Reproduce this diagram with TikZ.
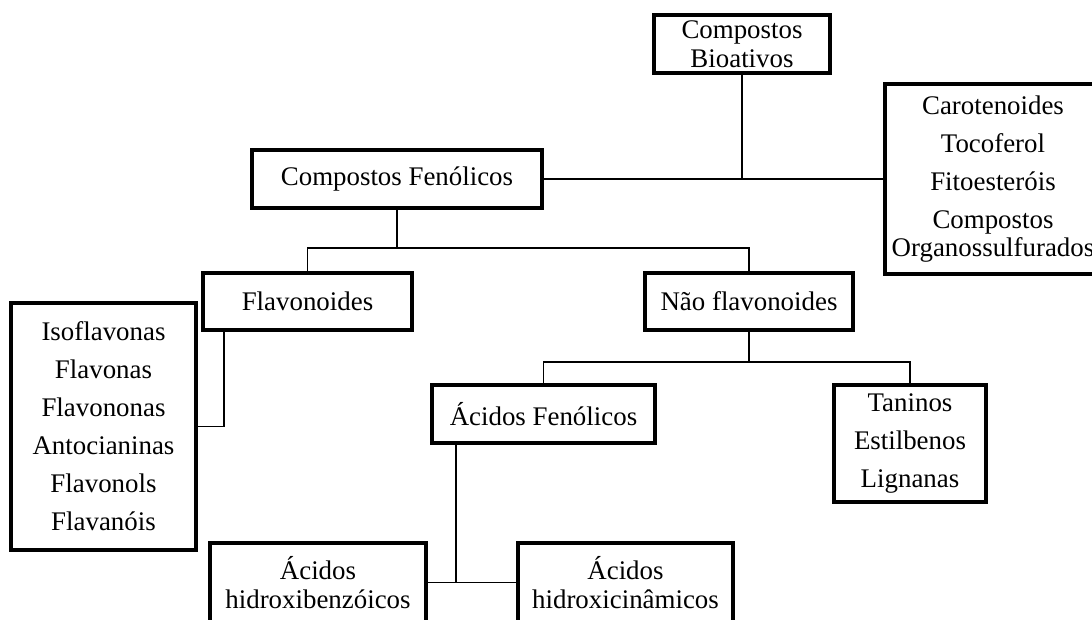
\documentclass[tikz,border=0pt]{standalone}
\usepackage{fontspec}
\setmainfont{Liberation Serif}
\usetikzlibrary{calc}

\def\px{0.02cm}

\begin{document}
\begin{tikzpicture}[x=\px,y=-\px,line width=0.75pt]
    \tikzstyle{box}=[draw,line width=2pt,align=center,inner sep=0pt,font=\fontsize{15.3}{16.2}\selectfont]
    \tikzstyle{list box}=[box,font=\fontsize{15.3}{21.6}\selectfont]
    \tikzstyle{link}=[line width=0.8pt]

    \useasboundingbox (0,0) rectangle (1092,619);

    % Top of the tree
    \node[box,minimum width=176*\px,minimum height=58*\px] (CB) at (742,44) {Compostos\\Bioativos};
    \node[box,minimum width=290*\px,minimum height=58*\px] (CF) at (397,179) {Compostos Fenólicos};
    \node[list box,minimum width=216*\px,minimum height=190*\px] (OC) at (993,179)
        {Carotenoides\\Tocoferol\\Fitoesteróis\\Compostos\\[-5.4pt]Organossulfurados};

    % Phenolic classes
    \node[box,minimum width=209*\px,minimum height=57*\px] (FL) at (307.5,301.5) {Flavonoides};
    \node[box,minimum width=208*\px,minimum height=57*\px] (NF) at (749,301.5) {Não flavonoides};
    \node[list box,minimum width=185*\px,minimum height=247*\px] (LF) at (103.5,426.5)
        {Isoflavonas\\Flavonas\\Flavononas\\Antocianinas\\Flavonols\\Flavanóis};

    % Non flavonoids
    \node[box,minimum width=223*\px,minimum height=58*\px] (AF) at (543.5,414) {Ácidos Fenólicos};
    \node[list box,minimum width=152*\px,minimum height=117*\px] (LN) at (910,443.5)
        {Taninos\\Estilbenos\\Lignanas};

    % Phenolic acids
    \node[box,minimum width=216*\px,minimum height=79*\px] (HB) at (318,582.5) {Ácidos\\hidroxibenzóicos};
    \node[box,minimum width=215*\px,minimum height=79*\px] (HC) at (625.5,582.5) {Ácidos\\hidroxicinâmicos};

    % Junction points
    \coordinate (J-1) at (397,248);
    \coordinate (J-2) at (749,362);
    \coordinate (J-3) at ($(FL.south)+(-83.5,0)$);
    \coordinate (J-4) at ($(AF.south)+(-87.5,0)$);

    % Connect the boxes
    \draw[link] (CF.east) -- (OC.west);
    \draw[link] (CB.south) -- (CB.south |- CF.east);
    \draw[link] (CF.south) -- (J-1);
    \draw[link] (FL.north) |- (J-1) -| (NF.north);
    \draw[link] (LF.east) -| (J-3);
    \draw[link] (NF.south) -- (J-2);
    \draw[link] (AF.north) |- (J-2) -| (LN.north);
    \draw[link] (HB.east) -- (HC.west);
    \draw[link] (J-4) -- (J-4 |- HB.east);

\end{tikzpicture}
\end{document}
